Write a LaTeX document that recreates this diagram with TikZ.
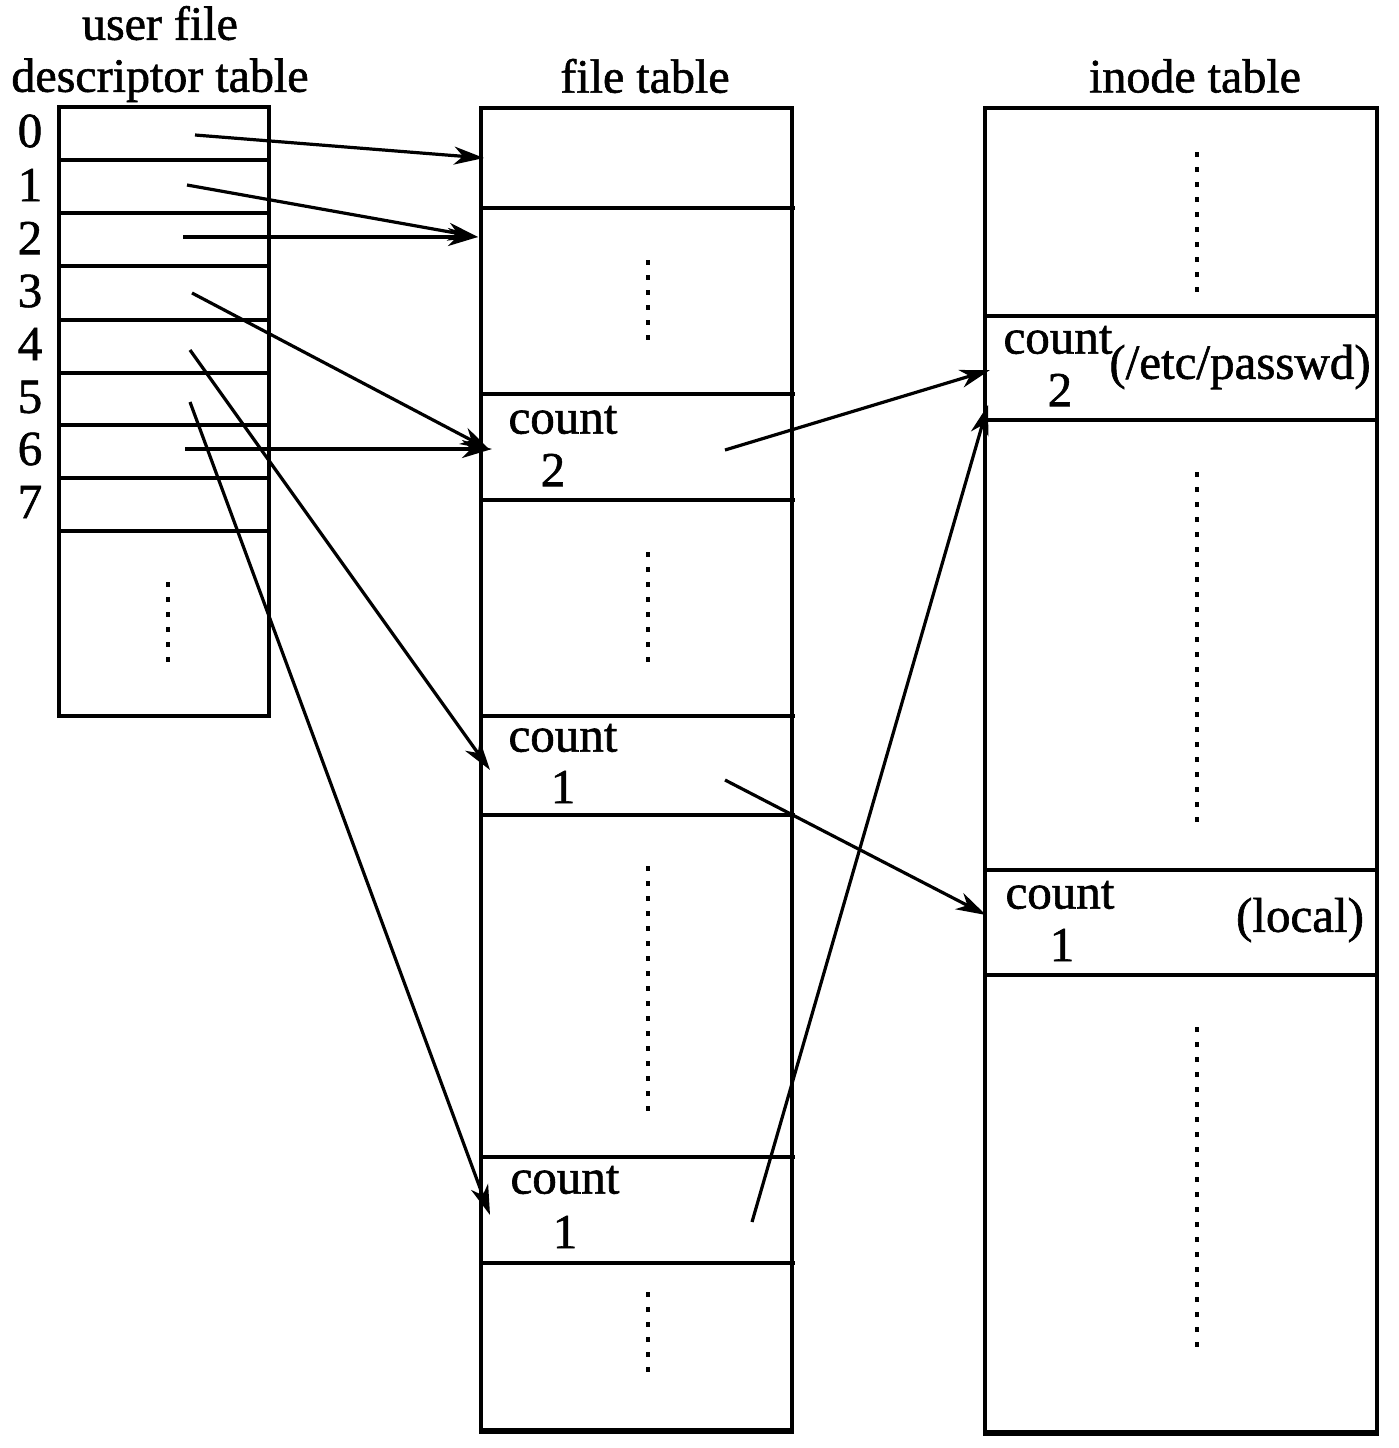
\documentclass[tikz,border=0pt]{standalone}
\usepackage{fontspec}
\setmainfont{Liberation Serif}[FakeBold=1.2]
\usetikzlibrary{arrows.meta}
\begin{document}
\begin{tikzpicture}[x=1pt,y=-1pt,
  frame/.style={line width=3.5pt},
  rowline/.style={line width=3.5pt},
  vdots/.style={line width=4.5pt,dash pattern=on 4.5pt off 10.5pt},
  arr/.style={line width=3.2pt,-{Stealth[length=30pt,width=18pt,inset=9pt]}},
  lbl/.style={inner sep=0pt,font=\fontsize{49}{53}\selectfont},
  ttl/.style={inner sep=0pt,font=\fontsize{48}{52}\selectfont,align=center}]
\useasboundingbox (0,0) rectangle (1398,1448);
% titles
\node[ttl] (t1) at (160,54) {user file\\descriptor table};
\node[ttl] (t2) at (645,76) {file table};
\node[ttl] (t3) at (1195,76) {inode table};
% user fd table
\draw[frame] (59,716) -- (59,107) -- (269,107) -- (269,716);
\draw[line width=4.5pt] (57,716) -- (271,716);
\foreach \y in {160,213,266,320,373,425,478,531}
  \draw[rowline] (59,\y) -- (269,\y);
\foreach \n/\y in {0/131,1/185,2/238,3/291,4/344,5/397,6/449,7/502}
  \node[lbl] (d\n) at (30,\y) {\n};
\draw[vdots] (168,582) -- (168,668);
% file table
\draw[frame] (481,1430) -- (481,108) -- (792,108) -- (792,1430);
\draw[line width=6pt] (479,1431) -- (794,1431);
\foreach \y in {208,394,500,716,815,1157,1263}
  \draw[rowline] (483,\y) -- (795,\y);
\draw[vdots] (648,260) -- (648,348);
\draw[vdots] (648,552) -- (648,668);
\draw[vdots] (648,866) -- (648,1112);
\draw[vdots] (648,1292) -- (648,1378);
\node[lbl] (fc1) at (563,420) {count};
\node[lbl] (fn1) at (553,470) {2};
\node[lbl] (fc2) at (563,738) {count};
\node[lbl] (fn2) at (563,787) {1};
\node[lbl] (fc3) at (565,1180) {count};
\node[lbl] (fn3) at (565,1232) {1};
% inode table
\draw[frame] (985,1432) -- (985,108) -- (1377,108) -- (1377,1432);
\draw[line width=6pt] (983,1433) -- (1379,1433);
\foreach \y in {316,420,870,975}
  \draw[rowline] (985,\y) -- (1377,\y);
\draw[vdots] (1197,152) -- (1197,292);
\draw[vdots] (1197,472) -- (1197,822);
\draw[vdots] (1197,1027) -- (1197,1347);
\node[lbl] (ic1) at (1058,340) {count};
\node[lbl] (in1) at (1060,390) {2};
\node[lbl] (ip1) at (1240,367) {(/etc/passwd)};
\node[lbl] (ic2) at (1060,895) {count};
\node[lbl] (in2) at (1062,945) {1};
\node[lbl] (ip2) at (1300,920) {(local)};
% arrow endpoints
\coordinate (s0) at (195,135); \coordinate (e0) at (484,158);
\coordinate (s1) at (187,185); \coordinate (e1) at (478,237);
\coordinate (s2) at (183,237); \coordinate (e2) at (478,237);
\coordinate (s3) at (192,293); \coordinate (e3) at (490,450);
\coordinate (s4) at (190,350); \coordinate (e4) at (490,770);
\coordinate (s5) at (190,402); \coordinate (e5) at (490,1215);
\coordinate (s6) at (185,449); \coordinate (e6) at (492,449);
\coordinate (f1) at (725,450); \coordinate (g1) at (990,370);
\coordinate (f2) at (725,780); \coordinate (g2) at (986,915);
\coordinate (f3) at (752,1222); \coordinate (g3) at (988,405);
\foreach \i in {0,...,6} \draw[arr] (s\i) -- (e\i);
\foreach \i in {1,2,3} \draw[arr] (f\i) -- (g\i);
\end{tikzpicture}
\end{document}
